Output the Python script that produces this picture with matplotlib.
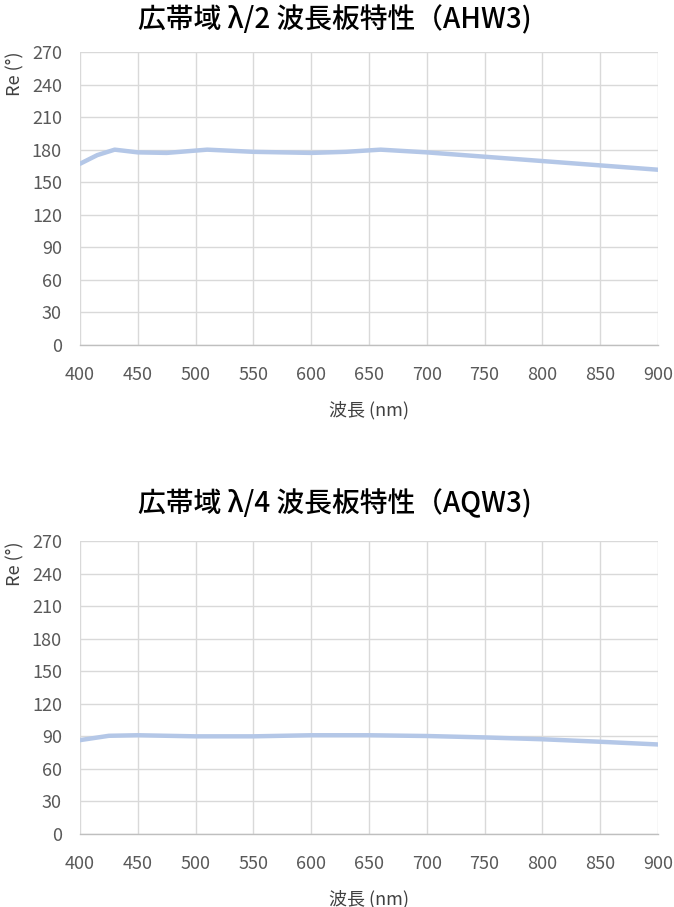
import matplotlib
matplotlib.use("Agg")
import matplotlib.pyplot as plt

plt.rcParams['font.family'] = ['Noto Sans CJK JP', 'DejaVu Sans']

wl_hw = [400, 415, 430, 450, 475, 510, 550, 600, 630, 660, 700, 750, 800, 850, 900]
re_hw = [167, 175, 180, 177.5, 177, 180, 178, 177, 178, 180, 177.5, 173.5, 169.5, 165.5, 161.5]

wl_qw = [400, 425, 450, 500, 550, 600, 650, 700, 750, 800, 850, 900]
re_qw = [86.5, 90.5, 91, 90, 90, 91, 91, 90.3, 89, 87.3, 85, 82.5]

titles = ["広帯域 λ/2 波長板特性（AHW3)", "広帯域 λ/4 波長板特性（AQW3)"]
xticks = list(range(400, 901, 50))
yticks = list(range(0, 271, 30))

fig = plt.figure(figsize=(6.74, 9.07), dpi=100)
positions = [[0.1187, 0.6196, 0.8576, 0.3231], [0.1187, 0.0805, 0.8576, 0.3230]]
title_y = [1 - 20 / 907, 1 - 503 / 907]
series = [(wl_hw, re_hw), (wl_qw, re_qw)]

for pos, (x, y), title, ty in zip(positions, series, titles, title_y):
    ax = fig.add_axes(pos)
    ax.plot(x, y, color="#b4c7e7", lw=3.2, solid_capstyle="round", zorder=3)
    ax.set_xlim(400, 900)
    ax.set_ylim(0, 270)
    ax.set_xticks(xticks)
    ax.set_yticks(yticks)
    ax.grid(True, color="#d9d9d9", lw=1.0, zorder=0)
    for s in ["left", "right", "top"]:
        ax.spines[s].set_visible(False)
    ax.spines["bottom"].set_color("#bfbfbf")
    ax.spines["bottom"].set_linewidth(1.0)
    ax.tick_params(axis="both", length=0, labelsize=13, labelcolor="#595959")
    ax.tick_params(axis="x", pad=15)
    ax.tick_params(axis="y", pad=13)
    ax.set_xlabel("波長 (nm)", fontsize=13, color="#404040", labelpad=12)
    ax.set_ylabel("Re (°)", fontsize=13, color="#404040", loc="top", labelpad=5)
    fig.text(335 / 674, ty, title, fontsize=20, fontweight="medium", color="#000000",
             ha="center", va="center")

fig.savefig("out.png", dpi=100)
